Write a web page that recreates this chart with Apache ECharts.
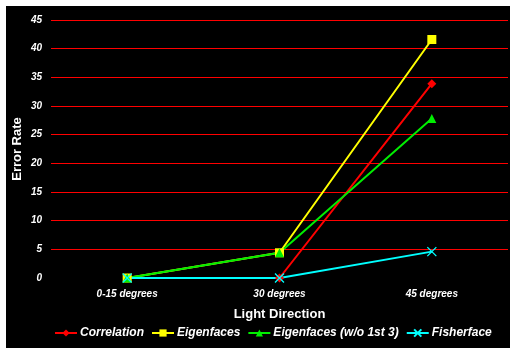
<!DOCTYPE html>
<html><head><meta charset="utf-8">
<script src="https://cdn.jsdelivr.net/npm/echarts@6/dist/echarts.min.js"></script>
<style>html,body{margin:0;padding:0;background:#fff;}#c{position:absolute;left:6px;top:6px;width:504px;height:342px;}</style>
</head><body><div id="c"></div>
<script>
const categories = ['0-15 degrees', '30 degrees', '45 degrees'];
const correlation = [0, 0, 33.9];
const eigenfaces = [0, 4.4, 41.6];
const eigenfacesWo = [0, 4.4, 27.8];
const fisherface = [0, 0, 4.6];
const yTicks = [0, 5, 10, 15, 20, 25, 30, 35, 40, 45];

const chart = echarts.init(document.getElementById('c'));
const FONT = 'Liberation Sans, Arial, sans-serif';
const crossPath = 'path://M0,0L10,10M10,0L0,10';
chart.setOption({
  backgroundColor: '#000',
  animation: false,
  textStyle: { fontFamily: FONT },
  grid: { left: 45, right: 2, top: 14, bottom: 70, outerBoundsMode: 'none', containLabel: false },
  xAxis: {
    type: 'category', data: categories, boundaryGap: true,
    axisLine: { show: false }, axisTick: { show: false },
    axisLabel: { color: '#fff', fontStyle: 'italic', fontWeight: 'bold', fontSize: 10, margin: 11, fontFamily: FONT },
    name: 'Light Direction', nameLocation: 'middle', nameGap: 30, nameMoveOverlap: false,
    nameTextStyle: { color: '#fff', fontWeight: 'bold', fontSize: 13, fontFamily: FONT }
  },
  yAxis: {
    type: 'value', min: yTicks[0], max: yTicks[yTicks.length - 1], interval: 5,
    axisLine: { show: false }, axisTick: { show: false },
    axisLabel: { color: '#fff', fontStyle: 'italic', fontWeight: 'bold', fontSize: 10, margin: 9, fontFamily: FONT },
    splitLine: { showMinLine: false, lineStyle: { color: '#ff0000', width: 1.2 } },
    name: 'Error Rate', nameLocation: 'middle', nameGap: 27, nameMoveOverlap: false,
    nameTextStyle: { color: '#fff', fontWeight: 'bold', fontSize: 13, fontFamily: FONT }
  },
  legend: {
    left: 48, top: 321, padding: 0, itemWidth: 22, itemHeight: 9, itemGap: 7,
    textStyle: { color: '#fff', fontStyle: 'italic', fontWeight: 'bold', fontSize: 12, fontFamily: FONT, padding: [0, 0, 0, -2] },
    data: ['Correlation', 'Eigenfaces', 'Eigenfaces (w/o 1st 3)', 'Fisherface']
  },
  series: [
    { name: 'Correlation', type: 'line', data: correlation, symbol: 'diamond', symbolSize: 9,
      lineStyle: { color: '#ff0000', width: 2 }, itemStyle: { color: '#ff0000' } },
    { name: 'Eigenfaces', type: 'line', data: eigenfaces, symbol: 'rect', symbolSize: 9,
      lineStyle: { color: '#ffff00', width: 2 }, itemStyle: { color: '#ffff00' } },
    { name: 'Eigenfaces (w/o 1st 3)', type: 'line', data: eigenfacesWo, symbol: 'triangle', symbolSize: 9,
      lineStyle: { color: '#00ee00', width: 2 }, itemStyle: { color: '#00ee00' } },
    { name: 'Fisherface', type: 'line', data: fisherface, symbol: crossPath, symbolSize: 9,
      lineStyle: { color: '#00ffff', width: 2 }, itemStyle: { color: 'transparent', borderColor: '#00ffff', borderWidth: 1.3 } }
  ]
});
</script></body></html>
